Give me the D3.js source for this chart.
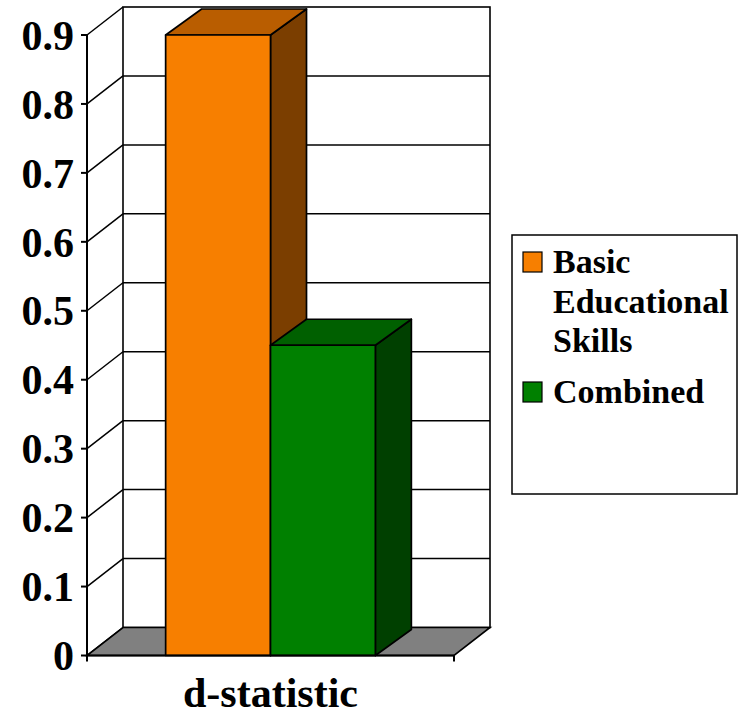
<!DOCTYPE html>
<html>
<head>
<meta charset="utf-8">
<script src="https://cdn.jsdelivr.net/npm/d3@7"></script>
<style>
  html, body { margin: 0; padding: 0; background: #fff; }
  svg { display: block; }
  text { font-family: "Liberation Serif", "Times New Roman", serif; font-weight: bold; fill: #000; }
</style>
</head>
<body>
<svg id="chart" width="738" height="716"></svg>
<script>
// Chart data
const categories = ["d-statistic"];
const seriesNames = ["Basic Educational Skills", "Combined"];
const legendLines = [["Basic", "Educational", "Skills"], ["Combined"]];
const values = [0.9, 0.45];
const yTicks = [0, 0.1, 0.2, 0.3, 0.4, 0.5, 0.6, 0.7, 0.8, 0.9];
const yTickLabels = ["0", "0.1", "0.2", "0.3", "0.4", "0.5", "0.6", "0.7", "0.8", "0.9"];

// Face colours per series: front, top, side
const palette = [
  { front: "#F77F00", top: "#B95D00", side: "#7B3E00" },
  { front: "#008000", top: "#006000", side: "#004000" }
];

const svg = d3.select("#chart");

// Front plane of the plot and oblique depth offsets
const frontLeft = 87, frontRight = 454;
const DX = 36, DY = -28;     // wall depth
const BDX = 36, BDY = -26;   // bar depth

const y = d3.scaleLinear().domain([0, 0.9]).range([655.5, 35]);
const xCat = d3.scaleBand().domain(categories).range([frontLeft, frontRight]);
const xBar = d3.scaleBand().domain(seriesNames)
  .range([xCat(categories[0]), xCat(categories[0]) + xCat.bandwidth()])
  .paddingInner(0).paddingOuter(0.75);

const y0 = y(0), yTop = y(0.9);
const backL = frontLeft + DX, backR = frontRight + DX;

const poly = pts => pts.map(p => p.join(",")).join(" ");

// Back wall
svg.append("rect")
  .attr("x", backL).attr("y", yTop + DY)
  .attr("width", backR - backL).attr("height", y0 - yTop)
  .attr("fill", "#fff").attr("stroke", "#000").attr("stroke-width", 1.6);

// Gridlines: side wall diagonal + back wall horizontal
const grid = svg.append("g").attr("stroke", "#000").attr("stroke-width", 1.5).attr("fill", "none");
yTicks.forEach(t => {
  const yf = y(t);
  grid.append("line").attr("x1", frontLeft).attr("y1", yf).attr("x2", backL).attr("y2", yf + DY);
  if (t > 0 && t < 0.9) {
    grid.append("line").attr("x1", backL).attr("y1", yf + DY).attr("x2", backR).attr("y2", yf + DY);
  }
});

// Floor
svg.append("polygon")
  .attr("points", poly([[frontLeft, y0], [frontRight, y0], [backR, y0 + DY], [backL, y0 + DY]]))
  .attr("fill", "#808080").attr("stroke", "#000").attr("stroke-width", 1.6);

// Bars
seriesNames.forEach((s, i) => {
  const v = values[i];
  const x = xBar(s), w = xBar.bandwidth();
  const yv = y(v);
  const c = palette[i];
  const g = svg.append("g").attr("stroke", "#000").attr("stroke-width", 1.7).attr("stroke-linejoin", "round");
  g.append("polygon")
    .attr("points", poly([[x + w, yv], [x + w + BDX, yv + BDY], [x + w + BDX, y0 + BDY], [x + w, y0]]))
    .attr("fill", c.side);
  g.append("polygon")
    .attr("points", poly([[x, yv], [x + BDX, yv + BDY], [x + w + BDX, yv + BDY], [x + w, yv]]))
    .attr("fill", c.top);
  g.append("rect")
    .attr("x", x).attr("y", yv).attr("width", w).attr("height", y0 - yv)
    .attr("fill", c.front);
});

// Value axis
const axis = svg.append("g").attr("stroke", "#000").attr("stroke-width", 2);
axis.append("line").attr("x1", frontLeft).attr("y1", yTop).attr("x2", frontLeft).attr("y2", y0 + 6);
axis.append("line").attr("x1", frontLeft).attr("y1", y0).attr("x2", frontRight).attr("y2", y0);
axis.append("line").attr("x1", frontRight).attr("y1", y0).attr("x2", frontRight).attr("y2", y0 + 6);
yTicks.forEach(t => {
  axis.append("line").attr("x1", frontLeft - 6).attr("y1", y(t)).attr("x2", frontLeft).attr("y2", y(t));
});

svg.append("g").selectAll("text")
  .data(yTicks)
  .join("text")
  .attr("x", 74).attr("y", d => y(d))
  .attr("dy", "0.35em")
  .attr("text-anchor", "end")
  .attr("font-size", 42)
  .text((d, i) => yTickLabels[i]);

// Category label
svg.append("text")
  .attr("x", xCat(categories[0]) + xCat.bandwidth() / 2)
  .attr("y", 707)
  .attr("text-anchor", "middle")
  .attr("font-size", 42)
  .text(categories[0]);

// Legend
const legend = svg.append("g");
legend.append("rect")
  .attr("x", 512).attr("y", 235).attr("width", 225).attr("height", 259)
  .attr("fill", "#fff").attr("stroke", "#000").attr("stroke-width", 1.5);
const legendTop = [252, 382];
seriesNames.forEach((s, i) => {
  legend.append("rect")
    .attr("x", 523).attr("y", legendTop[i]).attr("width", 19).attr("height", 20)
    .attr("fill", palette[i].front).attr("stroke", "#000").attr("stroke-width", 1.2);
  legendLines[i].forEach((ln, j) => {
    legend.append("text")
      .attr("x", 553).attr("y", legendTop[i] + 21 + j * 39.5)
      .attr("font-size", 34)
      .text(ln);
  });
});
</script>
</body>
</html>
